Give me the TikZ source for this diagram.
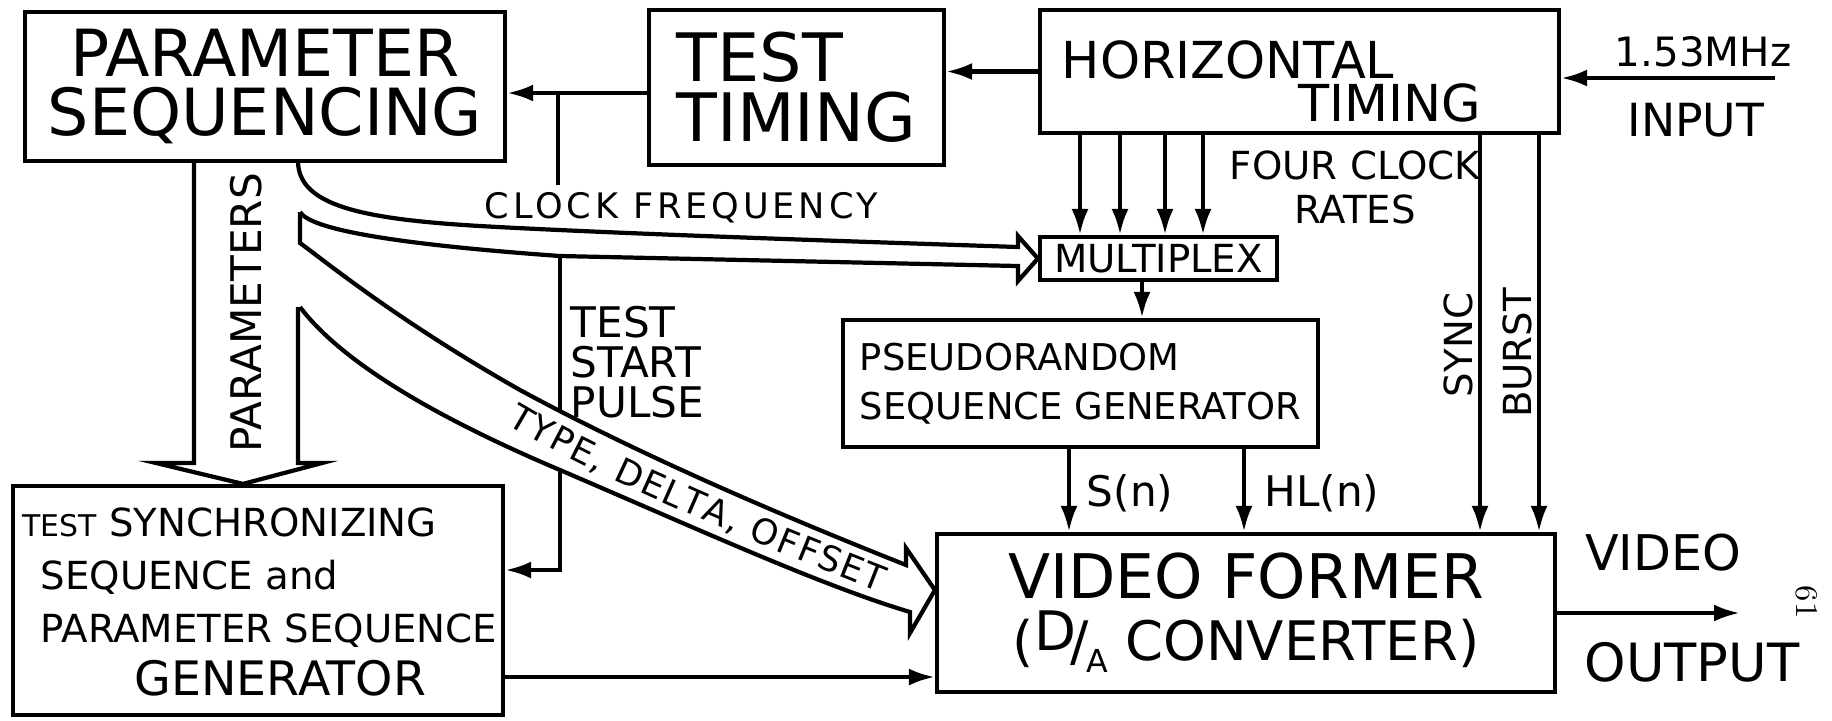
\documentclass[tikz,border=0pt]{standalone}
\usepackage{fontspec}
\setsansfont{DejaVu Sans}
\usetikzlibrary{arrows.meta,calc,decorations.text}
\def\hfont#1#2{\sffamily\fontsize{#1}{#2}\selectfont}

\tikzset{
	blk/.style={draw, line width=1.2pt, inner sep=0pt, align=center},
	txt/.style={inner sep=0pt, align=center},
	wire/.style={line width=1.2pt},
	arr/.style={line width=1.2pt, -{Latex[length=2.6mm,width=1.7mm]}}
}

\begin{document}
\begin{tikzpicture}[x=0.1mm, y=-0.1mm]
		%%%%% START %%%%%
		\useasboundingbox (0,0) rectangle (1832,720);
		
		\node[blk, minimum width=48mm, minimum height=14.9mm, font=\hfont{18.5}{17}] (ps) at (265,86.5) {PARAMETER\\SEQUENCING};
		\node[blk, minimum width=29.5mm, minimum height=15.5mm, font=\hfont{19}{17}, align=left] (tt) at (796.5,87.5) {TEST\\TIMING};
		\node[blk, minimum width=51.9mm, minimum height=12.3mm] (ht) at (1299.5,71.5) {};
		\node[txt, font=\hfont{14.5}{17}] (ht1) at (1228,60) {HORIZONTAL};
		\node[txt, font=\hfont{14.5}{17}] (ht2) at (1390,103) {TIMING};
		
		\node[blk, minimum width=23.7mm, minimum height=4.3mm, font=\hfont{11}{13}] (mux) at (1158.5,258.5) {MULTIPLEX};
		\node[blk, minimum width=47.5mm, minimum height=12.7mm, font=\hfont{10.5}{14}, align=left] (prs) at (1080.5,383.5) {PSEUDORANDOM\\SEQUENCE GENERATOR};
		\node[blk, minimum width=61.8mm, minimum height=15.8mm, font=\hfont{17.5}{17.6}] (vf) at (1246,613) {VIDEO FORMER\\{\fontsize{15.5}{17.6}\selectfont (\raisebox{0.35ex}{D}\kern-0.1em/\kern-0.05em\raisebox{-0.4ex}{\small A} CONVERTER)}};
		\node[blk, minimum width=49mm, minimum height=22.9mm] (tss) at (258,600.5) {};
		\node[txt, font=\hfont{11}{15}, align=left, anchor=west] (tsslbl) at (22,602) {{\fontsize{8.5}{15}\selectfont TEST} SYNCHRONIZING\\\hspace*{1.8mm}SEQUENCE and\\\hspace*{1.8mm}PARAMETER SEQUENCE\\\hspace*{11.2mm}{\fontsize{13.5}{15}\selectfont GENERATOR}};
		
		% timing chain along the top
		\coordinate (inp) at (1775,78);
		\draw[arr] (inp) -- (ht.east |- inp);
		\draw[arr] (ht.west) -- (tt.east |- ht.west);
		\draw[arr] (tt.west |- 0,93) -- (ps.east |- 0,93);
		\coordinate (cfq) at (558,185);
		\draw[wire] (cfq) -- (cfq |- 0,93);
		
		\foreach \xx in {1080,1120,1165,1203}
			\draw[arr] (ht.south -| \xx,0) -- (mux.north -| \xx,0);
		\draw[arr] (mux.south -| 1142,0) -- (prs.north -| 1142,0);
		\draw[arr] (prs.south -| 1069,0) -- (vf.north -| 1069,0);
		\draw[arr] (prs.south -| 1244,0) -- (vf.north -| 1244,0);
		\draw[arr] (ht.south -| 1480,0) -- (vf.north -| 1480,0);
		\draw[arr] (ht.south -| 1539,0) -- (vf.north -| 1539,0);
		
		\draw[arr] (tss.east |- 0,677) -- (vf.west |- 0,677);
		\coordinate (vout) at (1740,613);
		\draw[arr] (vf.east) -- (vout);
		
		\coordinate (tsp) at (560,257);
		\draw[arr] (tsp) |- (tss.east |- 0,570);
		
		% wide arrows
		\draw[wire, fill=white] (194,161) -- (194,463) -- (156,463) -- (tss.north -| 243,0) -- (322,463) -- (298,463) -- (298,307);
		\draw[wire, fill=white] (298,161) .. controls (298,205) and (360,219) .. (480,226) .. controls (620,234) and (900,243) .. (1018,247) -- (1018,236) -- (mux.west) -- (1018,281) -- (1018,266) -- (560,256) .. controls (420,246) and (312,232) .. (300,212);
		\draw[wire, fill=white] (300,212) -- (300,243) .. controls (330,265) and (400,322) .. (520,390) .. controls (640,455) and (780,515) .. (906,565) -- (906,548) -- (vf.west |- 0,590) -- (910,633) -- (910,612) .. controls (820,585) and (700,530) .. (560,470) .. controls (430,415) and (340,360) .. (300,307);
		\path[decorate, decoration={text along path, text={|\hfont{10}{12}|TYPE, DELTA, OFFSET}, text align=fit to path}] (507,424) .. controls (600,480) and (760,545) .. (880,592);
		
		% labels
		\node[txt, font=\hfont{12}{14}, rotate=90] (parlbl) at (246,313) {PARAMETERS};
		\node[txt, font=\hfont{10}{12}\addfontfeature{LetterSpace=11}, anchor=west] (clk) at (484,208) {CLOCK FREQUENCY};
		\node[txt, font=\hfont{12}{11.4}, align=left, anchor=west] (tsplbl) at (570,362) {TEST\\START\\PULSE};
		\node[txt, font=\hfont{11}{12.5}] (fcr) at (1355,187) {FOUR CLOCK\\RATES};
		\node[txt, font=\hfont{12}{14}] (sn) at (1130,493) {S(n)};
		\node[txt, font=\hfont{12}{14}] (hln) at (1322,493) {HL(n)};
		\node[txt, font=\hfont{11}{13}, rotate=90] (sync) at (1458,345) {SYNC};
		\node[txt, font=\hfont{11}{13}, rotate=90] (burst) at (1517,353) {BURST};
		\node[txt, font=\hfont{11.5}{13}] (mhz) at (1703,52) {1.53MHz};
		\node[txt, font=\hfont{13}{15}] (inlbl) at (1696,120) {INPUT};
		\node[txt, font=\hfont{14}{16}] (vid) at (1663,553) {VIDEO};
		\node[txt, font=\hfont{15}{17}] (outlbl) at (1692,662) {OUTPUT};
		\node[txt, font=\rmfamily\fontsize{9}{10}\selectfont, rotate=-90] (pg) at (1807,602) {61};
		
		%%%%% END %%%%%
	\end{tikzpicture}
\end{document}
